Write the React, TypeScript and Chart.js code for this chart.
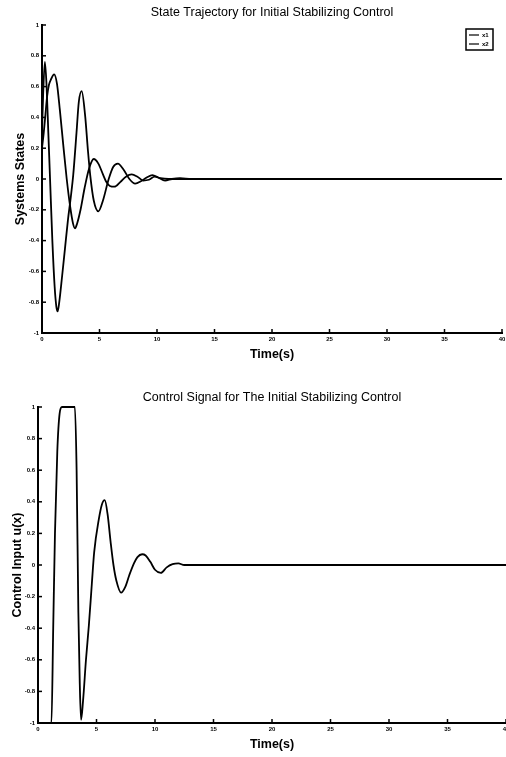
import React, { useEffect, useRef } from 'react';
import { Chart, registerables } from 'chart.js';

Chart.register(...registerables);
Chart.defaults.font.family = "'Liberation Sans', Arial, Helvetica, sans-serif";
Chart.defaults.color = '#000';

// ---------- data ----------
const seriesLabels = ['x1', 'x2'];

const timeX1 = [0, 0.1, 0.25, 0.4, 0.55, 0.7, 0.9, 1.1, 1.25, 1.36, 1.5, 1.75, 2.0, 2.25, 2.5, 2.72, 3.0, 3.2, 3.45, 3.74, 4.0, 4.2, 4.5, 4.9, 5.3, 5.8, 6.2, 6.6, 7.1, 7.6, 8.1, 8.6, 9.1, 9.6, 10.1, 10.7, 11.3, 12, 13, 15, 20, 25, 30, 35, 40];
const stateX1 = [0.3, 0.55, 0.76, 0.6, 0.3, 0.0, -0.4, -0.7, -0.83, -0.86, -0.8, -0.63, -0.45, -0.27, -0.12, 0.03, 0.3, 0.5, 0.57, 0.42, 0.18, 0.02, -0.14, -0.21, -0.14, 0.0, 0.08, 0.1, 0.06, 0.0, -0.03, -0.015, 0.01, 0.025, 0.01, -0.01, 0.0, 0.005, 0, 0, 0, 0, 0, 0, 0];

const timeX2 = [0, 0.15, 0.3, 0.45, 0.6, 0.8, 1.05, 1.3, 1.55, 1.85, 2.15, 2.45, 2.7, 2.87, 3.05, 3.35, 3.7, 4.1, 4.5, 4.9, 5.3, 5.6, 5.9, 6.3, 6.8, 7.3, 7.8, 8.3, 8.8, 9.3, 9.8, 10.3, 11, 12, 13, 15, 20, 25, 30, 35, 40];
const stateX2 = [0.2, 0.3, 0.42, 0.54, 0.61, 0.65, 0.68, 0.62, 0.45, 0.22, 0.0, -0.18, -0.29, -0.32, -0.29, -0.2, -0.06, 0.07, 0.13, 0.1, 0.03, -0.02, -0.045, -0.05, -0.02, 0.015, 0.03, 0.015, -0.01, -0.005, 0.015, 0.005, 0, 0, 0, 0, 0, 0, 0, 0, 0];

const timeU = [0, 1.15, 1.3, 1.45, 1.65, 1.85, 2.05, 3.15, 3.3, 3.45, 3.57, 3.68, 3.85, 4.1, 4.35, 4.6, 4.8, 5.2, 5.45, 5.7, 5.95, 6.2, 6.45, 6.7, 7.1, 7.45, 7.8, 8.2, 8.5, 8.9, 9.2, 9.6, 10.0, 10.5, 11.0, 11.5, 12.0, 12.5, 14, 20, 25, 30, 35, 40];
const controlU = [-1, -1, -0.4, 0.2, 0.72, 0.96, 1, 1, 0.6, -0.3, -0.75, -0.98, -0.86, -0.6, -0.38, -0.12, 0.08, 0.29, 0.38, 0.41, 0.32, 0.15, 0.0, -0.1, -0.175, -0.14, -0.065, 0.01, 0.05, 0.068, 0.06, 0.02, -0.03, -0.05, -0.015, 0.005, 0.01, 0.0, 0, 0, 0, 0, 0, 0];

const xRange = [0, 40];
const xStep = 5;
const yRange = [-1, 1];
const yStep = 0.2;

const topTitle = 'State Trajectory for Initial Stabilizing Control';
const bottomTitle = 'Control Signal for The Initial Stabilizing Control';
const topYTitle = 'Systems States';
const bottomYTitle = 'Control Input u(x)';
const xTitle = 'Time(s)';

// ---------- helpers ----------
const toPoints = (xs: number[], ys: number[]) => xs.map((x, i) => ({ x, y: ys[i] }));

const inwardTicks = {
  id: 'inwardTicks',
  afterDatasetsDraw(chart: any) {
    const { ctx, chartArea } = chart;
    const xs = chart.scales.x;
    const ys = chart.scales.y;
    ctx.save();
    ctx.strokeStyle = '#000';
    ctx.lineWidth = 1.5;
    xs.ticks.forEach((t: any) => {
      const px = xs.getPixelForValue(t.value);
      ctx.beginPath();
      ctx.moveTo(px, chartArea.bottom);
      ctx.lineTo(px, chartArea.bottom - 4);
      ctx.stroke();
    });
    ys.ticks.forEach((t: any) => {
      const py = ys.getPixelForValue(t.value);
      ctx.beginPath();
      ctx.moveTo(chartArea.left, py);
      ctx.lineTo(chartArea.left + 4, py);
      ctx.stroke();
    });
    ctx.restore();
  },
};

const boxedLegend = {
  id: 'boxedLegend',
  afterDraw(chart: any, _args: any, opts: any) {
    if (!opts || !opts.show) return;
    const { ctx, chartArea } = chart;
    const w = 27;
    const h = 21;
    const x = chartArea.right - 36;
    const y = chartArea.top + 4;
    ctx.save();
    ctx.fillStyle = '#fff';
    ctx.fillRect(x, y, w, h);
    ctx.strokeStyle = '#000';
    ctx.lineWidth = 1.5;
    ctx.strokeRect(x, y, w, h);
    chart.data.datasets.forEach((ds: any, i: number) => {
      const ly = y + 6 + i * 9;
      ctx.beginPath();
      ctx.moveTo(x + 3, ly);
      ctx.lineTo(x + 13, ly);
      ctx.strokeStyle = ds.borderColor;
      ctx.lineWidth = 1.2;
      ctx.stroke();
      ctx.fillStyle = '#000';
      ctx.font = "bold 6px 'Liberation Sans', Arial, sans-serif";
      ctx.textBaseline = 'middle';
      ctx.textAlign = 'left';
      ctx.fillText(ds.label, x + 16, ly);
    });
    ctx.restore();
  },
};

const fmtTick = (v: any) => String(Number(Number(v).toFixed(1)));

function makeConfig(p: {
  datasets: any[];
  title: string;
  yTitle: string;
  titlePad: { top: number; bottom: number };
  xHeight: number;
  xTitlePadBottom: number;
  yWidth: number;
  yTitlePadTop: number;
  padRight: number;
  legend: boolean;
}): any {
  return {
    type: 'line',
    data: { datasets: p.datasets },
    plugins: [inwardTicks, boxedLegend],
    options: {
      responsive: false,
      animation: false,
      devicePixelRatio: 1,
      layout: { padding: { left: 0, right: p.padRight, top: 0, bottom: 0 } },
      elements: { point: { radius: 0 } },
      plugins: {
        legend: { display: false },
        tooltip: { enabled: false },
        boxedLegend: { show: p.legend },
        title: {
          display: true,
          text: p.title,
          fullSize: false,
          color: '#000',
          font: { size: 12.5, weight: 'normal' },
          padding: p.titlePad,
        },
      },
      scales: {
        x: {
          type: 'linear',
          min: xRange[0],
          max: xRange[1],
          grid: { display: false, drawTicks: false },
          border: { display: true, color: '#000', width: 2 },
          ticks: {
            stepSize: xStep,
            autoSkip: false,
            maxRotation: 0,
            padding: 3,
            color: '#000',
            font: { size: 6, weight: 'bold' },
            callback: fmtTick,
          },
          title: {
            display: true,
            text: xTitle,
            color: '#000',
            font: { size: 12.5, weight: 'bold' },
            padding: { top: 0, bottom: p.xTitlePadBottom },
          },
          afterFit: (s: any) => {
            s.height = p.xHeight;
            s.paddingLeft = 0;
            s.paddingRight = 0;
          },
        },
        y: {
          type: 'linear',
          min: yRange[0],
          max: yRange[1],
          grid: { display: false, drawTicks: false },
          border: { display: true, color: '#000', width: 2 },
          ticks: {
            stepSize: yStep,
            autoSkip: false,
            padding: 3,
            color: '#000',
            font: { size: 6, weight: 'bold' },
            callback: fmtTick,
          },
          title: {
            display: true,
            text: p.yTitle,
            color: '#000',
            font: { size: 12.5, weight: 'bold' },
            padding: { top: p.yTitlePadTop, bottom: 0 },
          },
          afterFit: (s: any) => {
            s.width = p.yWidth;
            s.paddingTop = 0;
            s.paddingBottom = 0;
          },
        },
      },
    },
  };
}

function lineDs(label: string, xs: number[], ys: number[]) {
  return {
    label,
    data: toPoints(xs, ys),
    borderColor: '#000',
    backgroundColor: '#000',
    borderWidth: 1.8,
    pointRadius: 0,
    fill: false,
    cubicInterpolationMode: 'monotone',
    clip: false,
  };
}

export default function App() {
  const topRef = useRef<HTMLCanvasElement | null>(null);
  const botRef = useRef<HTMLCanvasElement | null>(null);

  useEffect(() => {
    const c1 = new Chart(
      topRef.current as HTMLCanvasElement,
      makeConfig({
        datasets: [lineDs(seriesLabels[0], timeX1, stateX1), lineDs(seriesLabels[1], timeX2, stateX2)],
        title: topTitle,
        yTitle: topYTitle,
        titlePad: { top: 5.5, bottom: 4.5 },
        xHeight: 47,
        xTitlePadBottom: 17.5,
        yWidth: 42,
        yTitlePadTop: 13.5,
        padRight: 4,
        legend: true,
      })
    );
    const c2 = new Chart(
      botRef.current as HTMLCanvasElement,
      makeConfig({
        datasets: [lineDs('u', timeU, controlU)],
        title: bottomTitle,
        yTitle: bottomYTitle,
        titlePad: { top: 10.5, bottom: 1.5 },
        xHeight: 34,
        xTitlePadBottom: 4.5,
        yWidth: 38,
        yTitlePadTop: 10.5,
        padRight: -1.5,
        legend: false,
      })
    );
    return () => {
      c1.destroy();
      c2.destroy();
    };
  }, []);

  return (
    <div style={{ position: 'absolute', left: 0, top: 0, width: 506, height: 757, background: '#fff', overflow: 'hidden' }}>
      <canvas ref={topRef} width={506} height={380} style={{ position: 'absolute', left: 0, top: 0, display: 'block' }} />
      <canvas ref={botRef} width={506} height={377} style={{ position: 'absolute', left: 0, top: 380, display: 'block' }} />
    </div>
  );
}
